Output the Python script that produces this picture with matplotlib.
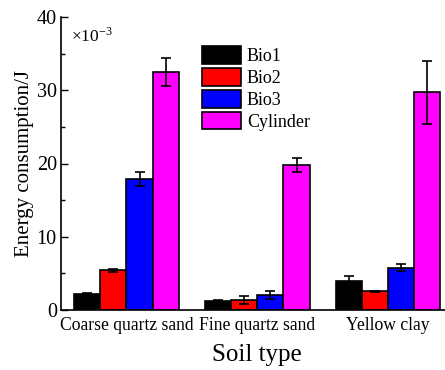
import numpy as np
import matplotlib
matplotlib.use('Agg')
import matplotlib.pyplot as plt

plt.rcParams['font.family'] = ['Liberation Serif', 'DejaVu Serif']
plt.rcParams['mathtext.fontset'] = 'stix'

soils = ['Coarse quartz sand', 'Fine quartz sand', 'Yellow clay']
series = ['Bio1', 'Bio2', 'Bio3', 'Cylinder']
colors = ['#000000', '#ff0000', '#0000ff', '#ff00ff']

bio1 = [2.25, 1.27, 4.0]
bio2 = [5.4, 1.37, 2.55]
bio3 = [17.9, 2.05, 5.78]
cyl = [32.5, 19.75, 29.7]

bio1_err = [0.05, 0.1, 0.6]
bio2_err = [0.15, 0.5, 0.1]
bio3_err = [0.93, 0.55, 0.47]
cyl_err = [1.9, 0.95, 4.25]

values = [bio1, bio2, bio3, cyl]
errors = [bio1_err, bio2_err, bio3_err, cyl_err]

fig = plt.figure(figsize=(4.45, 3.7), dpi=100)
ax = fig.add_axes([61/445, 1-310/370, 392.5/445, 293/370])

x = np.arange(len(soils))
w = 0.2
for i in range(4):
    ax.bar(x + (i-1.5)*w, values[i], w, color=colors[i], edgecolor='black',
           linewidth=1.2, label=series[i],
           yerr=errors[i], capsize=3.5,
           error_kw=dict(ecolor='black', elinewidth=1.2, capthick=1.2))

ax.set_xlim(-0.5, 2.5)
ax.set_ylim(0, 40)
ax.set_yticks([0, 10, 20, 30, 40])
ax.set_yticks([5, 15, 25, 35], minor=True)
ax.set_xticks(x)
ax.set_xticklabels(soils, fontsize=12.7)
ax.tick_params(axis='y', direction='in', labelsize=14.5, length=5, width=1, pad=3)
ax.tick_params(axis='y', which='minor', direction='in', length=3, width=1)
ax.tick_params(axis='x', length=0, pad=5)
ax.spines['top'].set_visible(False)
ax.spines['right'].set_visible(False)
ax.spines['left'].set_linewidth(1.2)
ax.spines['bottom'].set_linewidth(1.2)

ax.set_xlabel('Soil type', fontsize=18, labelpad=7)
ax.set_ylabel('Energy consumption/J', fontsize=15, labelpad=2)

ax.text(0.025, 0.965, r'×10$^{\mathregular{-3}}$', transform=ax.transAxes,
        fontsize=12.5, va='top', ha='left')

ax.legend(loc='upper left', bbox_to_anchor=(0.34, 0.925), frameon=False,
          fontsize=13, handlelength=2.2, handleheight=1.15,
          labelspacing=0.15, handletextpad=0.3, borderaxespad=0)

fig.savefig('out.png', dpi=100)
